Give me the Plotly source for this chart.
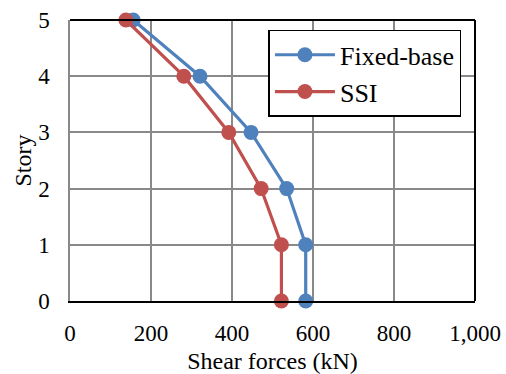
import plotly.graph_objects as go

stories = [0, 1, 2, 3, 4, 5]
fixed_base = [582, 582, 535, 447, 321, 156]
ssi = [522, 522, 472, 392, 281, 138]

x_ticks = [0, 200, 400, 600, 800, 1000]
x_tick_text = ["0", "200", "400", "600", "800", "1,000"]
y_ticks = [0, 1, 2, 3, 4, 5]

FONT = "Liberation Serif"
BLUE = "#4F81BD"
RED = "#C0504D"
GRID = "#898989"

fig = go.Figure()
fig.add_trace(go.Scatter(
    x=fixed_base, y=stories, name="Fixed-base", mode="lines+markers",
    line=dict(color=BLUE, width=3.2), marker=dict(size=15, color=BLUE),
    cliponaxis=False,
))
fig.add_trace(go.Scatter(
    x=ssi, y=stories, name="SSI", mode="lines+markers",
    line=dict(color=RED, width=3.2), marker=dict(size=15, color=RED),
    cliponaxis=False,
))

fig.update_layout(
    width=506, height=374,
    margin=dict(l=70, r=31, t=20, b=73, autoexpand=False),
    paper_bgcolor="white", plot_bgcolor="white",
    font=dict(family=FONT, size=23, color="black"),
    showlegend=True,
    legend=dict(
        x=0.49, y=0.965, xanchor="left", yanchor="top",
        bgcolor="white", bordercolor="black", borderwidth=1.5,
        font=dict(family=FONT, size=26), tracegroupgap=0, itemwidth=60,
    ),
    xaxis=dict(
        range=[0, 1000], tickvals=x_ticks, ticktext=x_tick_text,
        showgrid=True, gridcolor=GRID, gridwidth=1.5,
        zeroline=False, showline=True, linecolor="black", linewidth=2,
        ticks="outside", ticklen=0, ticklabelstandoff=10, automargin=False,
        tickfont=dict(family=FONT, size=23),
        title=dict(text="Shear forces (kN)", standoff=16, font=dict(family=FONT, size=24)),
    ),
    yaxis=dict(
        range=[0, 5], tickvals=y_ticks,
        showgrid=True, gridcolor=GRID, gridwidth=1.5,
        zeroline=False, showline=True, linecolor=GRID, linewidth=1.5,
        ticks="outside", ticklen=0, ticklabelstandoff=14, automargin=False,
        tickfont=dict(family=FONT, size=23),
        title=dict(text="Story", standoff=0, font=dict(family=FONT, size=24)),
    ),
    shapes=[
        dict(type="line", xref="paper", yref="paper", x0=0, x1=1, y0=1, y1=1,
             line=dict(color="black", width=2)),
        dict(type="line", xref="paper", yref="paper", x0=1, x1=1, y0=0, y1=1,
             line=dict(color="black", width=2)),
    ],
)

fig.write_html("out.html")
